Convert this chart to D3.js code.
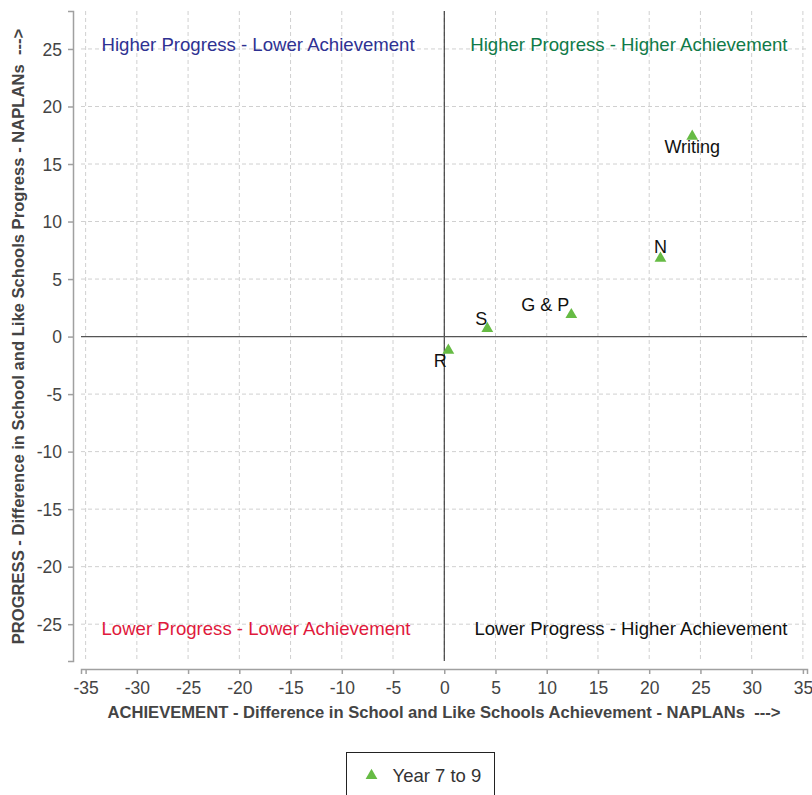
<!DOCTYPE html>
<html>
<head>
<meta charset="utf-8">
<script src="https://cdn.jsdelivr.net/npm/d3@7"></script>
<style>
  body { margin: 0; background: #fff; }
  svg { font-family: "Liberation Sans", Arial, sans-serif; }
</style>
</head>
<body>
<div id="chart"></div>
<script>
// subjects and their score differences
const subjects = ["Writing", "N", "G & P", "S", "R"];
const achievement = [24.2, 21.1, 12.4, 4.2, 0.4];
const progress = [17.4, 6.8, 1.9, 0.7, -1.2];
const seriesName = "Year 7 to 9";

const xTicks = [-35, -30, -25, -20, -15, -10, -5, 0, 5, 10, 15, 20, 25, 30, 35];
const yTicks = [-25, -20, -15, -10, -5, 0, 5, 10, 15, 20, 25];

const quadrants = [
  {text: "Higher Progress - Lower Achievement", color: "#2e3192"},
  {text: "Higher Progress - Higher Achievement", color: "#0f7a48"},
  {text: "Lower Progress - Lower Achievement", color: "#e0193c"},
  {text: "Lower Progress - Higher Achievement", color: "#111111"}
];

// where each point label sits relative to its marker
const labelOffset = {
  "Writing": [0, 17],
  "N": [0, -5],
  "G & P": [-26, -4],
  "S": [-6, -4],
  "R": [-8, 17]
};

const width = 812, height = 795;
const plot = {left: 81, right: 807, top: 11, bottom: 661};

const svg = d3.select("#chart").append("svg")
  .attr("width", width)
  .attr("height", height);

const x = d3.scaleLinear().domain([-35.45, 35.4]).range([plot.left, plot.right]);
const y = d3.scaleLinear().domain([-28.2, 28.3]).range([plot.bottom, plot.top]);

// grid
svg.append("g")
  .selectAll("line")
  .data(xTicks)
  .join("line")
    .attr("x1", d => x(d)).attr("x2", d => x(d))
    .attr("y1", plot.top).attr("y2", plot.bottom)
    .attr("stroke", "#d0d0d0")
    .attr("stroke-dasharray", "4,3");

svg.append("g")
  .selectAll("line")
  .data(yTicks)
  .join("line")
    .attr("x1", plot.left).attr("x2", plot.right)
    .attr("y1", d => y(d)).attr("y2", d => y(d))
    .attr("stroke", "#d0d0d0")
    .attr("stroke-dasharray", "4,3");

// axes, offset a bit from the plot like the original
let xAxis = svg.append("g")
  .attr("transform", "translate(0," + (plot.bottom + 8) + ")")
  .call(d3.axisBottom(x).tickValues(xTicks).tickFormat(d => String(d)).tickSize(5).tickPadding(8));
let yAxis = svg.append("g")
  .attr("transform", "translate(" + (plot.left - 8) + ",0)")
  .call(d3.axisLeft(y).tickValues(yTicks).tickFormat(d => String(d)).tickSize(5).tickPadding(6));

[xAxis, yAxis].forEach(a => {
  a.select(".domain").attr("stroke", "#a0a0a0").attr("stroke-width", 1.5);
  a.selectAll(".tick line").attr("stroke", "#a0a0a0").attr("stroke-width", 1.5);
  a.selectAll(".tick text")
    .attr("fill", "#444")
    .style("font-size", "17.5px")
    .style("font-family", "'Liberation Sans', Arial, sans-serif");
});
yAxis.selectAll(".tick text").attr("dy", "0.35em");

// zero lines
svg.append("line")
  .attr("x1", x(0)).attr("x2", x(0))
  .attr("y1", plot.top).attr("y2", plot.bottom)
  .attr("stroke", "#222").attr("stroke-width", 1);
svg.append("line")
  .attr("x1", plot.left).attr("x2", plot.right)
  .attr("y1", y(0)).attr("y2", y(0))
  .attr("stroke", "#555").attr("stroke-width", 1.2);

// quadrant captions: left ones start near the left edge, right ones end near the right edge
svg.append("g")
  .selectAll("text")
  .data(quadrants)
  .join("text")
    .attr("x", (d, i) => i % 2 ? x(33.5) : x(-33.45))
    .attr("y", (d, i) => i < 2 ? y(25) + 2 : y(-25) + 11)
    .attr("text-anchor", (d, i) => i % 2 ? "end" : "start")
    .attr("fill", d => d.color)
    .style("font-size", "18.6px")
    .text(d => d.text);

// points
const points = subjects.map((s, i) => ({name: s, ax: achievement[i], pr: progress[i]}));
const tri = d3.symbol().type(d3.symbolTriangle).size(60);

svg.append("g")
  .selectAll("path")
  .data(points)
  .join("path")
    .attr("transform", d => "translate(" + x(d.ax) + "," + y(d.pr) + ")")
    .attr("d", tri)
    .attr("fill", "#66bb44");

svg.append("g")
  .selectAll("text")
  .data(points)
  .join("text")
    .attr("x", d => x(d.ax) + labelOffset[d.name][0])
    .attr("y", d => y(d.pr) + labelOffset[d.name][1])
    .attr("text-anchor", "middle")
    .attr("fill", "#111")
    .style("font-size", "18px")
    .text(d => d.name);

// axis titles
svg.append("text")
  .attr("x", (plot.left + plot.right) / 2)
  .attr("y", 718)
  .attr("text-anchor", "middle")
  .attr("fill", "#444")
  .style("font-size", "16.6px")
  .style("font-weight", "bold")
  .style("white-space", "pre")
  .text("ACHIEVEMENT - Difference in School and Like Schools Achievement - NAPLANs  --->");

svg.append("text")
  .attr("transform", "translate(24," + y(0) + ") rotate(-90)")
  .attr("text-anchor", "middle")
  .attr("fill", "#444")
  .style("font-size", "16.6px")
  .style("font-weight", "bold")
  .style("white-space", "pre")
  .text("PROGRESS - Difference in School and Like Schools Progress - NAPLANs  --->");

// legend
const legend = svg.append("g").attr("transform", "translate(346.5,752.5)");
legend.append("rect")
  .attr("width", 148).attr("height", 60)
  .attr("fill", "#fff").attr("stroke", "#222");
legend.append("path")
  .attr("transform", "translate(25,23)")
  .attr("d", tri)
  .attr("fill", "#66bb44");
legend.append("text")
  .attr("x", 46).attr("y", 29)
  .attr("fill", "#333")
  .style("font-size", "18.5px")
  .text(seriesName);
</script>
</body>
</html>
